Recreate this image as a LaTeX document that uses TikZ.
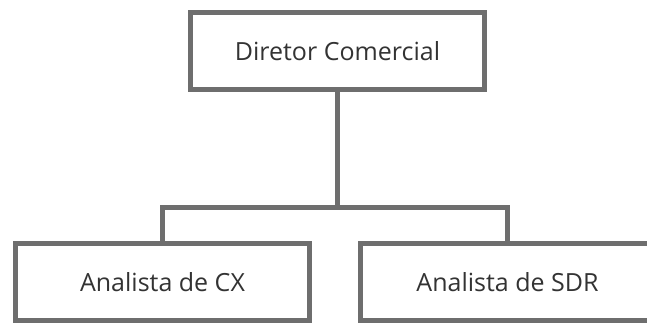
\documentclass[tikz,border=0pt]{standalone}
\usepackage{fontspec}
\setmainfont{Open Sans}
\usetikzlibrary{positioning}
\definecolor{boxline}{HTML}{6E6E6E}
\definecolor{boxtext}{HTML}{333333}
\tikzset{
	role/.style={draw=boxline, rectangle, line width=5pt, fill=white, text=boxtext, minimum width=294pt, minimum height=77pt, font=\fontsize{25}{30}\selectfont},
	link/.style={draw=boxline, line width=5pt},
}

\begin{document}
\begin{tikzpicture}[x=1pt, y=1pt, node distance=231pt]
	\useasboundingbox (0,0) rectangle (647,-325);
	\clip (0,0) rectangle (647,-325);
	
	\node (dir) [role] at (337.5,-51) {Diretor Comercial};
	
	\node (cx) [role, below of=dir, xshift=-175pt] {Analista de CX};
	\node (sdr) [role, right of=cx, xshift=114pt] {Analista de SDR};
	
	\begin{scope}[link]
		\draw (dir.south) -- ++(0,-115pt) coordinate (split);
		\draw (split) -| (cx.north);
		\draw (split) -| (sdr.north);
	\end{scope}
	
\end{tikzpicture}
\end{document}
